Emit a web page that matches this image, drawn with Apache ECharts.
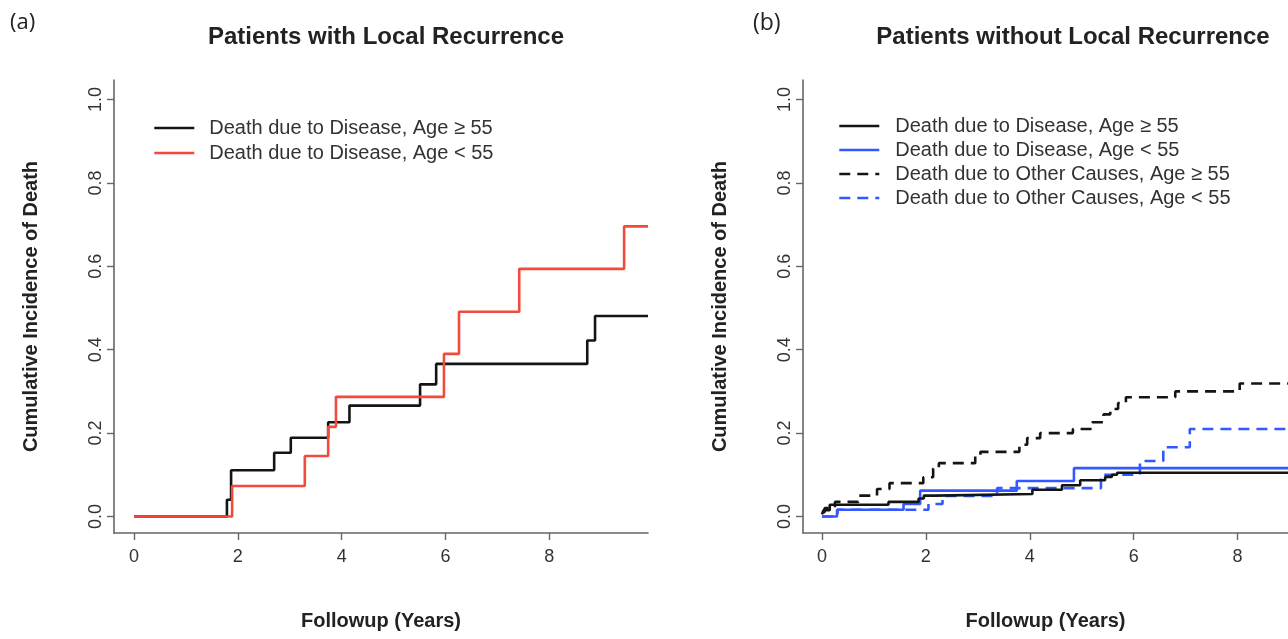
<!DOCTYPE html>
<html>
<head>
<meta charset="utf-8">
<script src="https://cdn.jsdelivr.net/npm/echarts@6/dist/echarts.min.js"></script>
<style>
  html, body { margin: 0; padding: 0; background: #fff; }
  #chart { width: 1288px; height: 639px; }
</style>
</head>
<body>
<div id="chart"></div>
<script>
// panel (a): patients with local recurrence
var aDisOldT = [0, 1.79, 1.87, 2.70, 3.02, 3.74, 4.15, 5.51, 5.82, 8.73, 8.88, 9.9];
var aDisOldV = [0, 0.04, 0.111, 0.153, 0.189, 0.226, 0.266, 0.317, 0.366, 0.422, 0.481, 0.481];
var aDisYoungT = [0, 1.89, 3.29, 3.74, 3.89, 5.97, 6.26, 7.42, 9.44, 9.9];
var aDisYoungV = [0, 0.073, 0.145, 0.215, 0.287, 0.390, 0.491, 0.594, 0.696, 0.696];

// panel (b): patients without local recurrence
var bDisOldT = [0, 0.03, 0.15, 1.28, 1.86, 1.96, 2.18, 4.05, 4.62, 4.97, 5.45, 5.58, 5.68, 8.97];
var bDisOldV = [0.005, 0.015, 0.028, 0.035, 0.043, 0.05, 0.054, 0.064, 0.075, 0.087, 0.095, 0.1, 0.105, 0.105];
var bDisYoungT = [0, 0.29, 1.57, 1.89, 3.75, 4.85, 8.97];
var bDisYoungV = [0, 0.016, 0.03, 0.062, 0.085, 0.116, 0.116];
var bOthOldT = [0, 0.05, 0.25, 0.7, 1.06, 1.3, 1.95, 2.14, 2.25, 2.95, 3.05, 3.8, 3.95, 4.2, 4.83, 5.2, 5.42, 5.55, 5.7, 5.85, 6.8, 8.04, 8.97];
var bOthOldV = [0.01, 0.02, 0.035, 0.05, 0.066, 0.08, 0.094, 0.115, 0.128, 0.145, 0.155, 0.172, 0.188, 0.2, 0.21, 0.226, 0.245, 0.258, 0.272, 0.286, 0.3, 0.319, 0.319];
var bOthYoungT = [0, 0.3, 2.05, 2.32, 3.37, 5.37, 6.12, 6.57, 7.08, 8.97];
var bOthYoungV = [0, 0.016, 0.03, 0.049, 0.068, 0.1, 0.133, 0.166, 0.21, 0.21];

var xTicks = [0, 2, 4, 6, 8];
var yTicks = [0, 0.2, 0.4, 0.6, 0.8, 1.0];

var nDisOld = 'Death due to Disease, Age \u2265 55';
var nDisYoung = 'Death due to Disease, Age < 55';
var nOthOld = 'Death due to Other Causes, Age \u2265 55';
var nOthYoung = 'Death due to Other Causes, Age < 55';

var FONT = '"Liberation Sans", Arial, sans-serif';
var BLACK = '#141414', RED = '#f04b3b', BLUE = '#3358ff';
var DASH = [11, 7];
var NOSYM = { color: 'rgba(0,0,0,0)', borderColor: 'rgba(0,0,0,0)', borderWidth: 0, opacity: 0 };

function pairs(t, v) {
    return t.map(function(x, i) { return [x, v[i]]; });
}

function xAx(idx, max, min) {
    return {
        type: 'value', gridIndex: idx, min: min, max: max,
        name: 'Followup (Years)', nameLocation: 'middle', nameGap: 78,
        nameTextStyle: { fontFamily: FONT, fontSize: 20, fontWeight: 'bold', color: '#222' },
        axisLine: { onZero: false, lineStyle: { color: '#666', width: 1.6 } },
        axisTick: { customValues: xTicks, length: 7, lineStyle: { color: '#666', width: 1.4 } },
        axisLabel: { customValues: xTicks, margin: 15, fontFamily: FONT, fontSize: 18, color: '#333' },
        splitLine: { show: false }
    };
}

function yAx(idx) {
    return {
        type: 'value', gridIndex: idx, min: -0.0396, max: 1.047,
        name: 'Cumulative Incidence of Death', nameLocation: 'middle', nameGap: 73,
        nameTextStyle: { fontFamily: FONT, fontSize: 20, fontWeight: 'bold', color: '#222' },
        axisLine: { onZero: false, lineStyle: { color: '#666', width: 1.6 } },
        axisTick: { customValues: yTicks, length: 7, lineStyle: { color: '#666', width: 1.4 } },
        axisLabel: {
            customValues: yTicks, margin: 9, rotate: 90, fontFamily: FONT, fontSize: 18, color: '#333',
            formatter: function(v) { return v.toFixed(1); }
        },
        splitLine: { show: false }
    };
}

function line(name, t, v, idx, color, type) {
    return {
        name: name, type: 'line', step: 'end', xAxisIndex: idx, yAxisIndex: idx,
        symbol: 'none', data: pairs(t, v),
        lineStyle: { color: color, width: 2.6, type: type || 'solid' },
        itemStyle: { color: color }
    };
}

function legItem(name, color, type) {
    return { name: name, lineStyle: { color: color, type: type, width: 2.6 }, itemStyle: NOSYM };
}

var chart = echarts.init(document.getElementById('chart'));
var option = {
    backgroundColor: '#fff',
    animation: false,
    title: [
        { text: '(a)', left: 5, top: 7, textStyle: { fontFamily: '"Open Sans", sans-serif', fontSize: 22, fontWeight: 'normal', color: '#222' } },
        { text: '(b)', left: 748, top: 7, textStyle: { fontFamily: '"Open Sans", sans-serif', fontSize: 23, fontWeight: 'normal', color: '#222' } },
        { text: 'Patients with Local Recurrence', left: 381, top: 20, textAlign: 'center', textStyle: { fontFamily: FONT, fontSize: 24, fontWeight: 'bold', color: '#222' } },
        { text: 'Patients without Local Recurrence', left: 1068, top: 20, textAlign: 'center', textStyle: { fontFamily: FONT, fontSize: 24, fontWeight: 'bold', color: '#222' } }
    ],
    legend: [
        {
            left: 153, top: 118, orient: 'vertical', padding: 0, itemWidth: 40, itemHeight: 12, itemGap: 5,
            textStyle: { fontFamily: FONT, fontSize: 20, color: '#333', padding: [0, 0, 0, 10] },
            data: [legItem(nDisOld, BLACK, 'solid'), legItem(nDisYoung, RED, 'solid')]
        },
        {
            left: 838, top: 116, orient: 'vertical', padding: 0, itemWidth: 40, itemHeight: 12, itemGap: 4,
            textStyle: { fontFamily: FONT, fontSize: 20, color: '#333', padding: [0, 0, 0, 11] },
            data: [
                legItem(nDisOld, BLACK, 'solid'),
                legItem(nDisYoung, BLUE, 'solid'),
                legItem(nOthOld, BLACK, DASH),
                legItem(nOthYoung, BLUE, DASH)
            ]
        }
    ],
    grid: [
        { left: 114, top: 80, width: 534, height: 453 },
        { left: 803, top: 80, width: 485, height: 453 }
    ],
    xAxis: [xAx(0, 9.9, -0.385), xAx(1, 8.97, -0.365)],
    yAxis: [yAx(0), yAx(1)],
    series: [
        line(nDisOld, aDisOldT, aDisOldV, 0, BLACK),
        line(nDisYoung, aDisYoungT, aDisYoungV, 0, RED),
        line(nOthOld, bOthOldT, bOthOldV, 1, BLACK, DASH),
        line(nOthYoung, bOthYoungT, bOthYoungV, 1, BLUE, DASH),
        line(nDisYoung, bDisYoungT, bDisYoungV, 1, BLUE),
        line(nDisOld, bDisOldT, bDisOldV, 1, BLACK)
    ]
};
chart.setOption(option);
</script>
</body>
</html>
